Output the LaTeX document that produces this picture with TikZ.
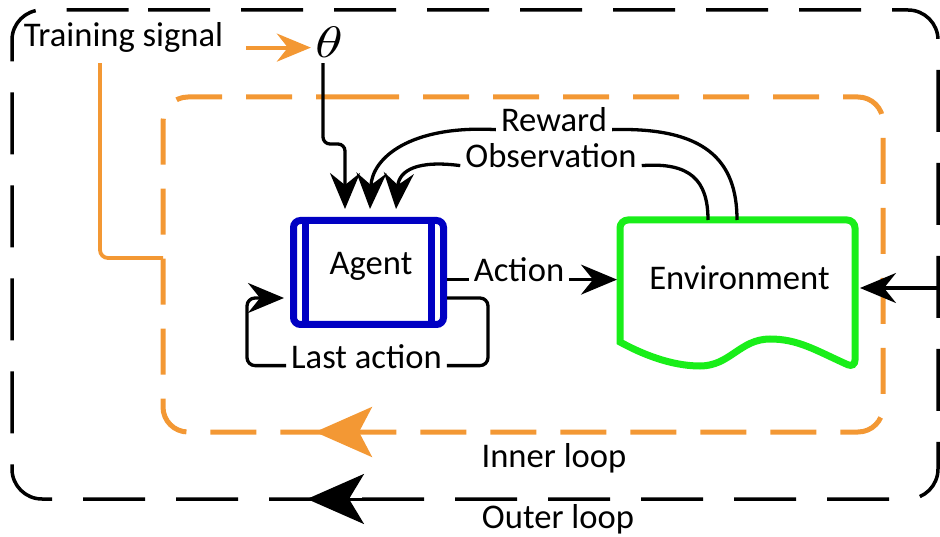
\documentclass[tikz,border=0pt]{standalone}
\usepackage{fontspec}
\setmainfont{Carlito}
\usetikzlibrary{arrows.meta}
\definecolor{loopor}{RGB}{243,152,52}
\definecolor{agentblue}{RGB}{0,0,195}
\definecolor{envgreen}{RGB}{25,238,25}

\begin{document}
\begin{tikzpicture}[x=1pt,y=-1pt,
  lbl/.style={font=\fontsize{34.6}{38}\selectfont, inner xsep=5pt, inner ysep=0pt, anchor=base},
  conn/.style={line width=3.3pt, black},
  tipk/.style={-{Stealth[length=36pt,width=30pt,inset=12pt]}},
  tipo/.style={-{Stealth[length=34pt,width=28pt,inset=11pt]}},
  outerloop/.style={line width=3.5pt, black, rounded corners=30pt, dash pattern=on 62pt off 31pt},
  innerloop/.style={line width=5pt, loopor, rounded corners=25pt, dash pattern=on 46pt off 24pt},
  agentbox/.style={draw=agentblue, line width=7pt, rounded corners=7pt,
    minimum width=150pt, minimum height=104pt, inner sep=0pt},
  envline/.style={envgreen, line width=7pt}
]
\useasboundingbox (0,0) rectangle (940,537);
\clip (0,0) rectangle (940,537);

% outer loop
\draw[outerloop] (118,10) -- (938,10) -- (938,499) -- (12,499) -- (12,10) -- cycle;
\draw[black, line width=3pt, -{Stealth[length=57pt,width=50pt,inset=15pt]}] (366,499) -- (307,499);

% inner loop
\draw[innerloop] (328,97) -- (883,97) -- (883,432) -- (163,432) -- (163,97) -- cycle;
\draw[loopor, line width=4pt, -{Stealth[length=57pt,width=50pt,inset=13pt]}] (374,432) -- (315,432);
\coordinate (innerleft) at (163,258);

% labels
\node[lbl] (train) at (123.5,47) {Training signal};
\node[anchor=base, inner sep=0pt, font=\fontsize{10}{12}\selectfont] (theta) at (329,58) {\scalebox{5.6}[4.4]{$\theta$}};
\node[lbl] (reward) at (554,132) {Reward};
\node[lbl] (obs) at (551,168) {Observation};
\node[lbl] (action) at (519,282) {Action};
\node[lbl] (lastact) at (366.5,368) {Last action};
\node[lbl] (inner) at (554,467) {Inner loop};
\node[lbl] (outer) at (558,528) {Outer loop};

% agent
\node[agentbox] (agent) at (368.5,272.5) {};
\draw[agentblue, line width=7pt] ([xshift=15.5pt]agent.north west) -- ([xshift=15.5pt]agent.south west);
\draw[agentblue, line width=7pt] ([xshift=-16pt]agent.north east) -- ([xshift=-16pt]agent.south east);
\node[lbl] (agentlabel) at (371,275) {Agent};

% environment
\node[minimum width=241pt, minimum height=148pt, inner sep=0pt, outer sep=0pt] (env) at (737.5,294) {};
\draw[envline, rounded corners=8pt] (620,342) -- (620,220) -- (855,220) -- (855,368)
  [sharp corners] .. controls (815,350) and (798,339) .. (770,339)
  .. controls (740,339) and (730,366) .. (700,366)
  .. controls (670,366) and (640,353) .. (620,342) -- cycle;
\node[lbl] (envlabel) at (739.5,290) {Environment};

% training signal
\coordinate (tsout) at ([xshift=18pt,yshift=-3pt]train.mid east);
\draw[loopor, line width=3.8pt, tipo] (tsout) -- ([xshift=-4pt]theta.west |- tsout);
\draw[loopor, line width=3.8pt, rounded corners=8pt] ([xshift=-23.5pt,yshift=-10pt]train.south) |- (innerleft);

% inputs of the agent
\draw[conn, tipk, rounded corners=7pt] ([xshift=-6pt,yshift=-5pt]theta.south) -- (323,144) -- (345,144) -- ([xshift=-23.5pt,yshift=8pt]agent.north);
\draw[conn, tipk] (reward.mid west) .. controls (410,125) and (372,158) .. ([xshift=1.5pt,yshift=8pt]agent.north);
\draw[conn, tipk] (obs.mid west) .. controls (418,160) and (399,170) .. ([xshift=27.5pt,yshift=8pt]agent.north);

% outputs of the environment
\draw[conn] (reward.mid east) .. controls (705,127) and (737,160) .. ([xshift=-0.5pt]env.north);
\draw[conn] (obs.mid east) .. controls (690,162) and (708,180) .. ([xshift=-29.5pt]env.north);

% action
\draw[conn] (agent.east |- action.mid) -- (action.mid west);
\draw[conn, tipk] (action.mid east) -- (env.west |- action.mid);

% last action loop
\draw[conn, rounded corners=8pt] ([yshift=-25.5pt]agent.east) -| ([xshift=41pt]lastact.mid east) -- (lastact.mid east);
\draw[conn, rounded corners=8pt, tipk] (lastact.mid west) -| ([xshift=-43pt,yshift=-25.5pt]agent.west) -- ([xshift=-6pt,yshift=-25.5pt]agent.west);

% external input of the environment
\coordinate (extin) at (945,288);
\draw[conn, tipk] (extin) -- ([xshift=2pt]env.east |- extin);
\end{tikzpicture}
\end{document}
